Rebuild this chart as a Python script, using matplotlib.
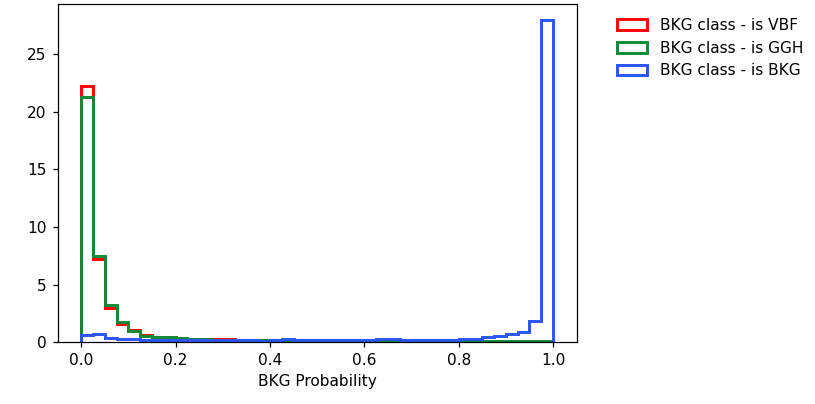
import numpy as np
import matplotlib
matplotlib.use("Agg")
import matplotlib.pyplot as plt

# Bin edges: 40 bins on [0, 1]
bin_edges = np.linspace(0.0, 1.0, 41)

vbf_values = [22.2, 7.2, 2.95, 1.55, 1.05, 0.62, 0.47, 0.42, 0.36, 0.3,
              0.3, 0.32, 0.3, 0.2, 0.17, 0.15, 0.14, 0.12, 0.11, 0.1,
              0.09, 0.08, 0.08, 0.07, 0.07, 0.06, 0.06, 0.05, 0.05, 0.05,
              0.04, 0.04, 0.04, 0.04, 0.03, 0.03, 0.03, 0.03, 0.03, 0.03]
ggh_values = [21.3, 7.5, 3.2, 1.75, 0.95, 0.55, 0.45, 0.42, 0.35, 0.3,
              0.25, 0.22, 0.2, 0.18, 0.17, 0.22, 0.12, 0.1, 0.1, 0.09,
              0.08, 0.08, 0.07, 0.07, 0.06, 0.06, 0.06, 0.05, 0.05, 0.06,
              0.06, 0.07, 0.07, 0.08, 0.08, 0.08, 0.08, 0.08, 0.1, 0.12]
bkg_values = [0.6, 0.7, 0.35, 0.3, 0.25, 0.22, 0.2, 0.2, 0.2, 0.18,
              0.15, 0.15, 0.15, 0.15, 0.15, 0.12, 0.15, 0.25, 0.22, 0.15,
              0.15, 0.15, 0.15, 0.15, 0.15, 0.25, 0.25, 0.18, 0.2, 0.2,
              0.22, 0.22, 0.25, 0.3, 0.45, 0.5, 0.7, 0.87, 1.85, 27.95]

labels = ["BKG class - is VBF", "BKG class - is GGH", "BKG class - is BKG"]
colors = ["#ff0000", "#138a36", "#2a55f2"]

DPI = 111
fig = plt.figure(figsize=(815 / DPI, 404 / DPI), dpi=DPI)
ax = fig.add_axes([0.0706, 0.153, 0.637, 0.837])

centers = 0.5 * (bin_edges[:-1] + bin_edges[1:])
for vals, lab, col in zip([vbf_values, ggh_values, bkg_values], labels, colors):
    ax.hist(centers, bins=bin_edges, weights=vals, histtype="step",
            linewidth=1.9, color=col, label=lab)

ax.set_xlabel("BKG Probability")
ax.legend(bbox_to_anchor=(1.05, 1), loc="upper left", frameon=False)

fig.savefig("out.png", dpi=DPI)
